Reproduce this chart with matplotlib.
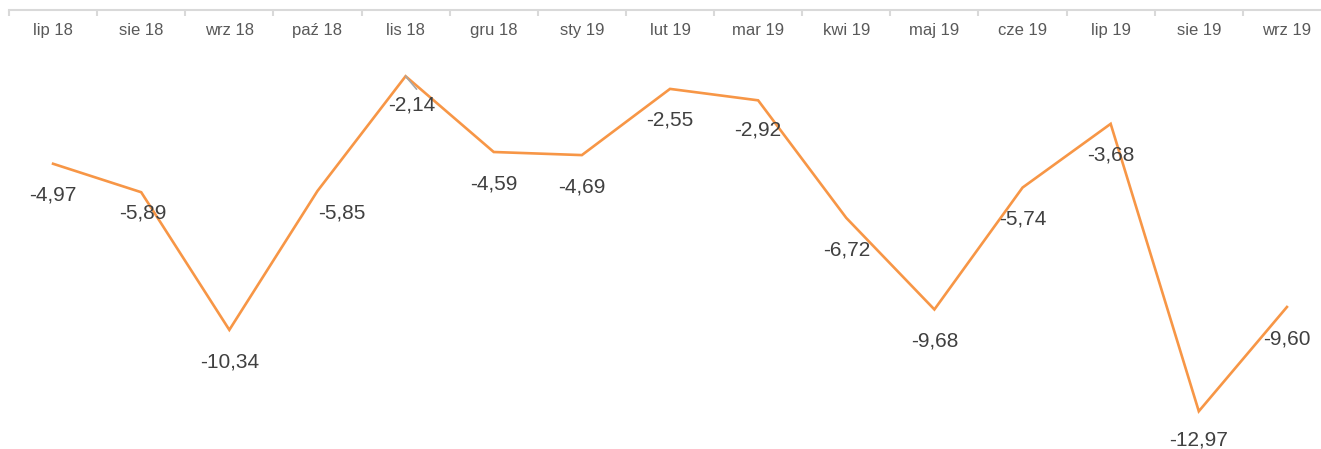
import matplotlib
matplotlib.use('Agg')
import matplotlib.pyplot as plt
import numpy as np

plt.rcParams['font.family'] = ['Liberation Sans', 'DejaVu Sans']

months = ['lip 18', 'sie 18', 'wrz 18', 'paź 18', 'lis 18', 'gru 18', 'sty 19',
          'lut 19', 'mar 19', 'kwi 19', 'maj 19', 'cze 19', 'lip 19', 'sie 19', 'wrz 19']
values = [-4.97, -5.89, -10.34, -5.85, -2.14, -4.59, -4.69,
          -2.55, -2.92, -6.72, -9.68, -5.74, -3.68, -12.97, -9.60]

# label offsets in pixels (label centre relative to the point)
label_dx = [0, 2, 0, 24, 6, 0, 0, 0, 0, 0, 0, 0, 0, 0, 0]
label_dy = [-31, -21, -32, -22, -29, -32, -32, -31, -30, -32, -32, -31, -31, -29, -32]

W, H = 1321, 449
fig = plt.figure(figsize=(W / 100, H / 100), dpi=100)
ax = fig.add_axes([9 / W, 0, 1322 / W, (H - 10) / H])

x = np.arange(len(months))
ax.plot(x, values, color='#F79646', linewidth=1.9, solid_joinstyle='miter')

for i, v in enumerate(values):
    txt = f'{v:.2f}'.replace('.', ',')
    ax.annotate(txt, (i, v), xytext=(label_dx[i], label_dy[i]), textcoords='offset pixels',
                ha='center', va='center', fontsize=15, color='#404040')

# small leader line near the lis 18 label
ax.annotate('', xy=(4, values[4]), xytext=(11, -13), textcoords='offset pixels',
            arrowprops=dict(arrowstyle='-', color='#A6A6A6', lw=1.2, shrinkA=0, shrinkB=0))

ax.set_xlim(-0.5, len(months) - 0.5)
ax.set_ylim(-14.19, 0)

ax.xaxis.tick_top()
ax.set_xticks(x)
ax.set_xticklabels(months, fontsize=12, color='#595959')
for lbl in ax.get_xticklabels():
    lbl.set_va('baseline')
ax.set_xticks(np.arange(-0.5, len(months)), minor=True)
ax.tick_params(axis='x', which='major', length=0, pad=-18)
ax.tick_params(axis='x', which='minor', length=4, width=1.5, color='#D9D9D9',
               direction='in', top=True, bottom=False)
ax.set_yticks([])

for s in ['left', 'right', 'bottom']:
    ax.spines[s].set_visible(False)
ax.spines['top'].set_color('#D9D9D9')
ax.spines['top'].set_linewidth(1.5)

fig.savefig('out.png', dpi=100)
